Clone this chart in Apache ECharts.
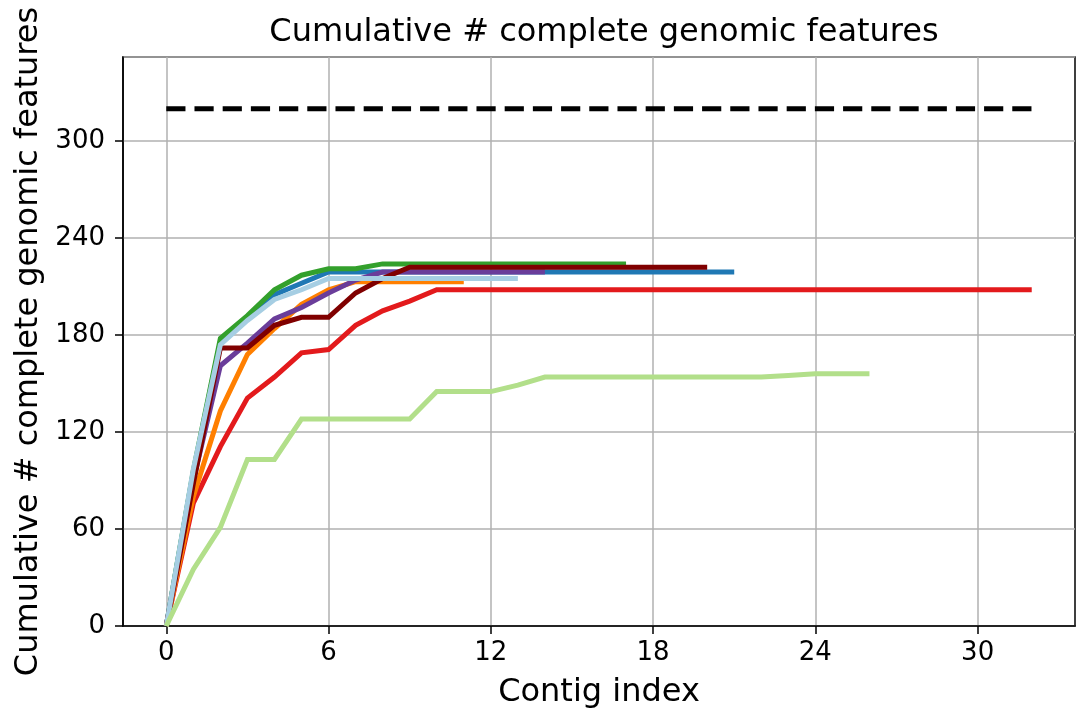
<!DOCTYPE html>
<html>
<head>
<meta charset="utf-8">
<script src="https://cdn.jsdelivr.net/npm/echarts@6/dist/echarts.min.js"></script>
<style>
  html, body { margin: 0; padding: 0; background: #fff; }
  #chart { width: 1076px; height: 711px; }
</style>
</head>
<body>
<div id="chart"></div>
<script>
// Cumulative count of complete genomic features per contig index, one run per series
const lightBlueVals  = [0, 97, 174, 189, 202, 208, 215, 215, 215, 215, 215, 215, 215, 215];
const blueVals       = [0, 95, 176, 191, 205, 212, 219, 219, 219, 219, 219, 219, 219, 219, 219, 219, 219, 219, 219, 219, 219, 219];
const greenVals      = [0, 96, 178, 192, 208, 217, 221, 221, 224, 224, 224, 224, 224, 224, 224, 224, 224, 224];
const redVals        = [0, 76, 111, 141, 154, 169, 171, 186, 195, 201, 208, 208, 208, 208, 208, 208, 208, 208, 208, 208, 208, 208, 208, 208, 208, 208, 208, 208, 208, 208, 208, 208, 208];
const orangeVals     = [0, 80, 133, 168, 184, 199, 208, 213, 213, 213, 213, 213];
const purpleVals     = [0, 90, 161, 175, 190, 197, 206, 214, 219, 219, 219, 219, 219, 219, 219];
const darkRedVals    = [0, 88, 172, 172, 186, 191, 191, 206, 215, 222, 222, 222, 222, 222, 222, 222, 222, 222, 222, 222, 222];
const lightGreenVals = [0, 35, 61, 103, 103, 128, 128, 128, 128, 128, 145, 145, 145, 149, 154, 154, 154, 154, 154, 154, 154, 154, 154, 155, 156, 156, 156];

// Total number of features (reference level)
const totalFeatures = 320;
const totalSpan = [0, 32];

const xTicks = [0, 6, 12, 18, 24, 30];
const yTicks = [0, 60, 120, 180, 240, 300];

const FONT = 'DejaVu Sans';

function pairs(vals) {
  return vals.map((v, i) => [i, v]);
}

function curve(vals, color) {
  return {
    type: 'line',
    data: pairs(vals),
    showSymbol: false,
    symbol: 'none',
    silent: true,
    lineStyle: { color: color, width: 5, cap: 'butt', join: 'miter' },
    animation: false
  };
}

const chart = echarts.init(document.getElementById('chart'), null, { renderer: 'canvas' });

chart.setOption({
  backgroundColor: '#ffffff',
  animation: false,
  title: {
    text: 'Cumulative # complete genomic features',
    left: 599,
    textAlign: 'center',
    top: 12,
    textStyle: { fontFamily: FONT, fontSize: 32, fontWeight: 'normal', color: '#000' }
  },
  grid: {
    left: 123, right: 1, top: 57, bottom: 85,
    containLabel: false,
    outerBoundsMode: 'none',
    show: true, borderColor: '#000', borderWidth: 1.5, backgroundColor: 'transparent'
  },
  xAxis: {
    type: 'value',
    min: -1.6, max: 33.6,
    name: 'Contig index',
    nameLocation: 'middle',
    nameGap: 51,
    nameTextStyle: { fontFamily: FONT, fontSize: 32, color: '#000' },
    axisLine: { show: true, onZero: false, lineStyle: { color: '#000', width: 1.5 } },
    axisTick: { show: true, customValues: xTicks, length: 8, lineStyle: { color: '#000', width: 1.5 } },
    axisLabel: { customValues: xTicks, margin: 14, fontFamily: FONT, fontSize: 26, color: '#000' },
    splitLine: { show: true, lineStyle: { color: '#b0b0b0', width: 1.5 } }
  },
  yAxis: {
    type: 'value',
    min: 0, max: 352, interval: 60,
    name: 'Cumulative # complete genomic features',
    nameLocation: 'middle',
    nameGap: 76,
    nameRotate: 90,
    nameTextStyle: { fontFamily: FONT, fontSize: 32, color: '#000' },
    axisLine: { show: true, onZero: false, lineStyle: { color: '#000', width: 1.5 } },
    axisTick: { show: true, length: 8, lineStyle: { color: '#000', width: 1.5 } },
    axisLabel: {
      margin: 18, fontFamily: FONT, fontSize: 26, color: '#000',
      showMaxLabel: false,
      formatter: v => (yTicks.indexOf(v) >= 0 ? String(v) : '')
    },
    splitLine: { show: true, lineStyle: { color: '#b0b0b0', width: 1.5 } }
  },
  series: [
    curve(blueVals, '#1f78b4'),
    curve(greenVals, '#33a02c'),
    curve(redVals, '#e31a1c'),
    curve(orangeVals, '#ff7f00'),
    curve(purpleVals, '#6a3d9a'),
    curve(darkRedVals, '#800000'),
    curve(lightBlueVals, '#a6cee3'),
    curve(lightGreenVals, '#b2df8a'),
    {
      type: 'line',
      data: totalSpan.map(x => [x, totalFeatures]),
      showSymbol: false,
      symbol: 'none',
      silent: true,
      lineStyle: { color: '#000', width: 5, type: [19.2, 9], cap: 'butt' },
      animation: false
    }
  ]
});
</script>
</body>
</html>
